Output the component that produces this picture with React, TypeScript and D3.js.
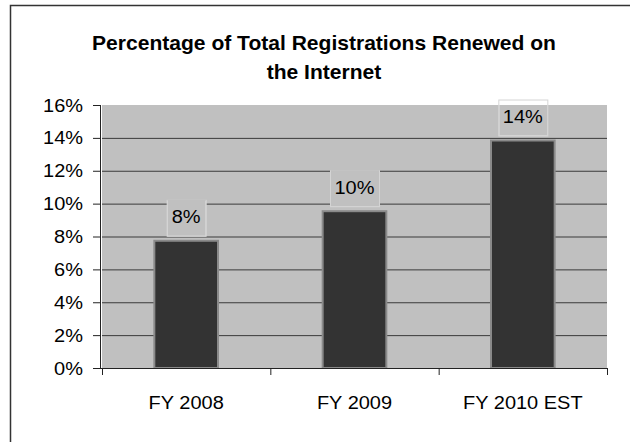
import React from "react";
import * as d3 from "d3";

const categories: string[] = ["FY 2008", "FY 2009", "FY 2010 EST"];
const values: number[] = [7.8, 9.6, 13.9];
const labels: string[] = ["8%", "10%", "14%"];
const yTicks: number[] = [0, 2, 4, 6, 8, 10, 12, 14, 16];
const titleLines: string[] = ["Percentage of Total Registrations Renewed on", "the Internet"];

const W = 630;
const H = 442;
const SX = 1.08;
const FONT = "'Liberation Sans', Arial, sans-serif";

function SText(props: {
  x: number;
  y: number;
  anchor?: string;
  size: number;
  weight?: string;
  children: React.ReactNode;
}) {
  const { x, y, anchor = "middle", size, weight = "normal", children } = props;
  return (
    <text
      transform={`translate(${x},${y}) scale(${SX},1)`}
      textAnchor={anchor}
      fontSize={size}
      fontWeight={weight}
      fontFamily={FONT}
      fill="#000"
    >
      {children}
    </text>
  );
}

export default function App() {
  const plot = { left: 102, right: 607, top: 105, bottom: 368 };
  const pi = 0.61;
  const x = d3
    .scaleBand<string>()
    .domain(categories)
    .range([plot.left, plot.right])
    .paddingInner(pi)
    .paddingOuter(pi / 2);
  const y = d3.scaleLinear().domain([0, 16]).range([plot.bottom, plot.top]);
  const step = x.step();
  const boundaries = [0, 1, 2, 3].map((i) => plot.left + i * step);

  return (
    <svg
      width={W}
      height={H}
      style={{ position: "absolute", left: 0, top: 0, background: "#fff" }}
    >
      <rect x={0} y={0} width={W} height={H} fill="#fff" />
      {/* outer border */}
      <rect x={10.5} y={5.5} width={700} height={600} fill="none" stroke="#333" strokeWidth={1.5} />

      {/* title */}
      {titleLines.map((t, i) => (
        <SText key={i} x={324} y={50 + i * 29} size={19.5} weight="bold">
          {t}
        </SText>
      ))}

      {/* plot background */}
      <rect
        x={plot.left}
        y={plot.top}
        width={plot.right - plot.left}
        height={plot.bottom - plot.top}
        fill="#c0c0c0"
      />

      {/* gridlines */}
      {yTicks.slice(1, -1).map((t) => (
        <line
          key={t}
          x1={plot.left}
          x2={plot.right}
          y1={y(t) + 0.5}
          y2={y(t) + 0.5}
          stroke="#3a3a3a"
          strokeWidth={1}
        />
      ))}

      {/* bars */}
      {categories.map((c, i) => (
        <rect
          key={c}
          x={(x(c) as number) + 1}
          y={y(values[i]) + 1}
          width={x.bandwidth() - 2}
          height={plot.bottom - y(values[i]) - 1}
          fill="#333333"
          stroke="#8a8a8a"
          strokeWidth={2}
        />
      ))}

      {/* data labels */}
      {categories.map((c, i) => {
        const cx = (x(c) as number) + x.bandwidth() / 2;
        const bw = labels[i].length * 10 + 19;
        const bh = 36;
        const by = y(values[i]) - 4 - bh;
        const innerTop = Math.max(by, plot.top);
        return (
          <g key={c}>
            <rect x={cx - bw / 2 + 0.5} y={by + 0.5} width={bw} height={bh} fill="#fff" stroke="#d4d4d4" strokeWidth={1} />
            <rect x={cx - bw / 2 + 1} y={innerTop} width={bw - 1} height={by + bh - innerTop} fill="#c0c0c0" />
            <SText x={cx} y={by + bh / 2 + 5.5} size={18.5}>
              {labels[i]}
            </SText>
          </g>
        );
      })}

      {/* y axis */}
      <line x1={100.5} x2={100.5} y1={plot.top} y2={plot.bottom + 1} stroke="#222" strokeWidth={1} />
      {yTicks.map((t) => (
        <g key={t}>
          <line x1={93} x2={101} y1={y(t) + 0.5} y2={y(t) + 0.5} stroke="#222" strokeWidth={1} />
          <SText x={83} y={y(t) + 6.5} size={18.5} anchor="end">
            {`${t}%`}
          </SText>
        </g>
      ))}

      {/* x axis */}
      <line x1={100} x2={plot.right + 1} y1={plot.bottom + 0.5} y2={plot.bottom + 0.5} stroke="#222" strokeWidth={1} />
      {boundaries.map((bx, i) => (
        <line key={i} x1={bx + 0.5} x2={bx + 0.5} y1={plot.bottom} y2={plot.bottom + 7} stroke="#222" strokeWidth={1} />
      ))}
      {categories.map((c) => (
        <SText key={c} x={(x(c) as number) + x.bandwidth() / 2} y={409} size={18.5}>
          {c}
        </SText>
      ))}
    </svg>
  );
}
